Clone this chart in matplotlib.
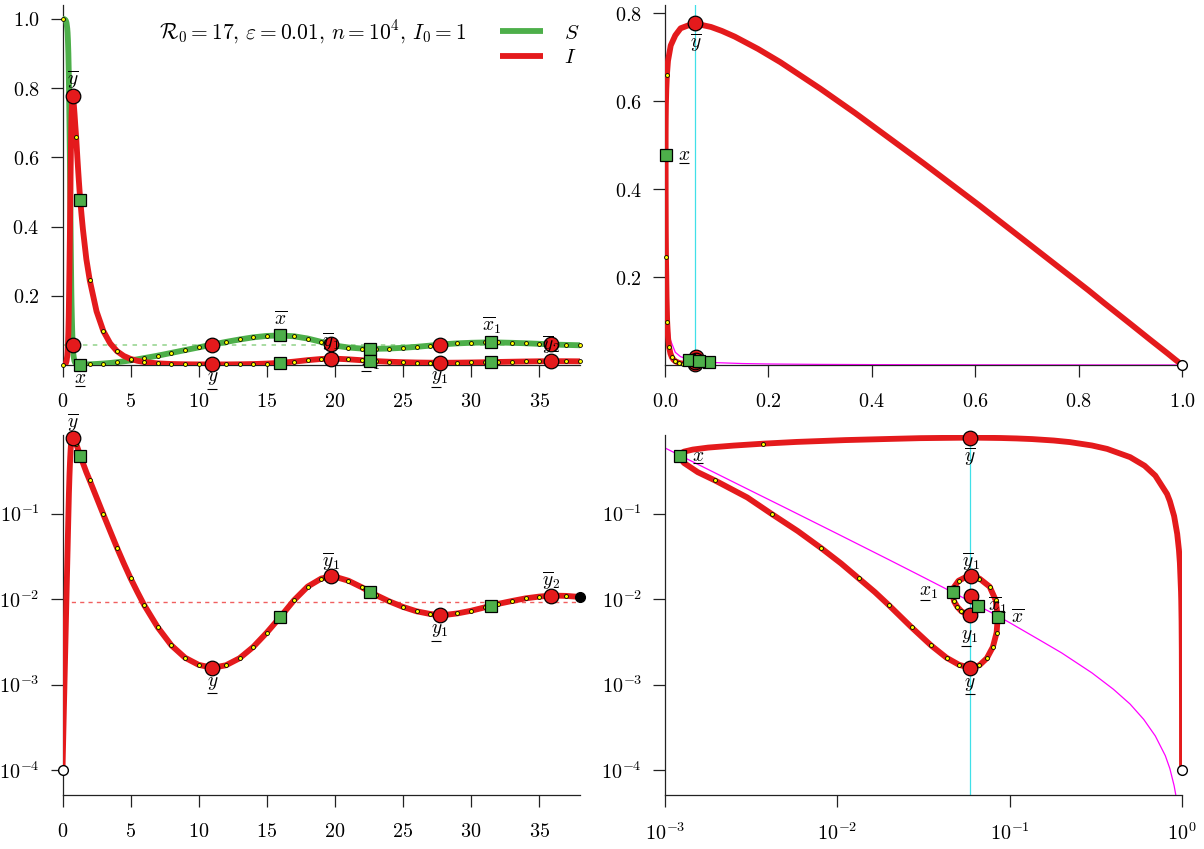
import numpy as np
import matplotlib
matplotlib.use("Agg")
import matplotlib.pyplot as plt
from matplotlib.ticker import NullLocator
from matplotlib.transforms import offset_copy

plt.rcParams["mathtext.fontset"] = "cm"
plt.rcParams["font.family"] = "serif"

# trajectory: time, susceptible fraction S, infected fraction I
t = [0.0, 0.1, 0.2, 0.25, 0.284, 0.3, 0.35, 0.373, 0.4, 0.431, 0.458, 0.47,
     0.512, 0.54, 0.568, 0.6, 0.62, 0.644, 0.662, 0.688, 0.704, 0.72, 0.733,
     0.752, 0.772, 0.8, 0.835, 0.88, 0.94, 1.0, 1.05, 1.1, 1.15, 1.2, 1.25,
     1.3, 1.4, 1.5, 1.75, 2.0, 2.5, 3.0, 3.5, 4.0, 4.5, 5.0, 5.5, 6.0, 7.0,
     8.0, 9.0, 10.0, 11.0, 12.0, 13.0, 14.0, 15.0, 16.0, 17.0, 18.0, 19.0,
     19.7, 20.0, 21.0, 22.0, 22.6, 23.0, 24.0, 25.0, 26.0, 27.0, 27.7, 28.0,
     29.0, 30.0, 31.0, 31.5, 32.0, 33.0, 34.0, 35.0, 35.9, 36.0, 37.0, 38.0]
S = [1.0, 0.9996, 0.9974, 0.9942, 0.99, 0.987, 0.972, 0.96, 0.938, 0.9, 0.85,
     0.819, 0.7, 0.607, 0.5, 0.368, 0.3, 0.223, 0.18, 0.135, 0.11, 0.089,
     0.075, 0.0588, 0.045, 0.0302, 0.02, 0.0111, 0.0058, 0.0037, 0.0025,
     0.00178, 0.00145, 0.00129, 0.00123, 0.00122, 0.00124, 0.00129, 0.00155,
     0.00195, 0.0030, 0.0042, 0.0059, 0.0080, 0.0105, 0.0133, 0.0165, 0.0199,
     0.0270, 0.0350, 0.0430, 0.0509, 0.0589, 0.0667, 0.0737, 0.0799, 0.0840,
     0.0853, 0.0830, 0.0765, 0.0668, 0.0594, 0.0562, 0.0505, 0.0474, 0.0466,
     0.0467, 0.0476, 0.0497, 0.0525, 0.0560, 0.0589, 0.0600, 0.0625, 0.0642,
     0.0651, 0.0652, 0.0650, 0.0641, 0.0628, 0.0612, 0.0594, 0.0592, 0.0580,
     0.0570]
I = [0.0001, 0.0005, 0.00245, 0.0055, 0.0095, 0.0122, 0.0265, 0.0376, 0.058,
     0.0938, 0.1404, 0.170, 0.279, 0.364, 0.459, 0.573, 0.629, 0.689, 0.719,
     0.747, 0.760, 0.769, 0.7726, 0.777, 0.7726, 0.766, 0.750, 0.727, 0.692,
     0.660, 0.627, 0.594, 0.563, 0.533, 0.505, 0.478, 0.433, 0.392, 0.306,
     0.245, 0.155, 0.098, 0.0625, 0.040, 0.0262, 0.0175, 0.0121, 0.0085,
     0.00466, 0.00287, 0.00206, 0.0017, 0.00157, 0.00168, 0.00203, 0.00275,
     0.00405, 0.0062, 0.0097, 0.0140, 0.0174, 0.0184, 0.0183, 0.0164, 0.0137,
     0.0121, 0.0112, 0.0094, 0.0081, 0.0072, 0.0067, 0.0065, 0.0065, 0.0068,
     0.0073, 0.0080, 0.0084, 0.0088, 0.0095, 0.0102, 0.0107, 0.0110, 0.0110,
     0.0109, 0.0106]

# times of the extrema of I (circles) and of S (squares); labels as (letter, subscript, bar)
t_I_ext = [0.752, 11.0, 19.7, 27.7, 35.9]
I_ext_labels = [("y", "", "over"), ("y", "", "under"), ("y", "1", "over"),
                ("y", "1", "under"), ("y", "2", "over")]
t_S_ext = [1.3, 16.0, 22.6, 31.5]
S_ext_labels = [("x", "", "under"), ("x", "", "over"), ("x", "1", "under"),
                ("x", "1", "over")]

# equilibrium and S-nullcline
S_star = 0.0588
I_star = 0.0093
null_S = [0.00073, 0.001, 0.002, 0.003, 0.005, 0.01, 0.02, 0.03, 0.05, 0.0588,
          0.08, 0.1, 0.15, 0.2, 0.3, 0.4, 0.5, 0.6, 0.7, 0.8, 0.85, 0.9, 0.92,
          0.95, 1.0]
null_I = [0.805, 0.588, 0.293, 0.195, 0.117, 0.0582, 0.0288, 0.0190, 0.0112,
          0.0094, 0.0068, 0.0053, 0.0033, 0.00235, 0.00137, 0.00088, 0.00059,
          0.00039, 0.00025, 0.000147, 0.000104, 0.0000654, 0.0000512,
          0.000031, 0.0]

t = np.array(t)
S = np.array(S)
I = np.array(I)
iI = [int(np.argmin(abs(t - v))) for v in t_I_ext]
iS = [int(np.argmin(abs(t - v))) for v in t_S_ext]
dots = np.isclose(t, np.round(t))

GREEN = "#4daf4a"
RED = "#e41a1c"
LW = 4.2
circ = dict(marker="o", ms=10.5, mfc=RED, mec="k", mew=0.9, ls="none", zorder=6, clip_on=False)
sq = dict(marker="s", ms=8.5, mfc=GREEN, mec="k", mew=0.9, ls="none", zorder=6, clip_on=False)
dot = dict(marker="o", ms=2.8, mfc="yellow", mec="k", mew=0.6, ls="none", zorder=5, clip_on=False)
LFS = 14

W, H = 1204, 849
fig = plt.figure(figsize=(W / 100, H / 100), dpi=100)
ax_tl = fig.add_axes([62.5 / W, (H - 365) / H, 517.5 / W, 360 / H])
ax_tr = fig.add_axes([665 / W, (H - 365) / H, 517 / W, 360 / H])
ax_bl = fig.add_axes([62.5 / W, (H - 795) / H, 517.5 / W, 360 / H])
ax_br = fig.add_axes([665 / W, (H - 795) / H, 517 / W, 360 / H])


def style(ax):
    for s in ["top", "right"]:
        ax.spines[s].set_visible(False)
    for s in ["left", "bottom"]:
        ax.spines[s].set_color("#222222")
        ax.spines[s].set_linewidth(0.9)
    ax.tick_params(direction="out", length=8.5, width=0.9, color="#222222",
                   labelsize=14.5)
    ax.tick_params(axis="x", pad=11)
    ax.tick_params(axis="y", pad=8)


def lab(ax, x, y, spec, dx, dy, z=7):
    letter, sub, bar = spec
    body = letter + ("_" + sub if sub else "")
    if bar == "over":
        s = r"$\overline{%s}%s$" % (letter, "_" + sub if sub else "")
    else:
        s = "$" + body + "$"
    ax.annotate(s, (x, y), xytext=(dx, dy), textcoords="offset points",
                ha="center", va="center", fontsize=LFS, annotation_clip=False,
                zorder=z)
    if bar == "under":
        # mathtext has no \underline: draw the bar as a short horizontal marker
        ux = dx - (2.8 if sub else 0)
        uy = dy - (7.5 if letter == "y" else 5.6)
        tr = offset_copy(ax.transData, fig=fig, x=ux, y=uy, units="points")
        ax.plot([x], [y], marker="_", ms=6.6, mew=0.8, color="k", transform=tr,
                clip_on=False, zorder=z)


# ---- top left: S and I against time
ax = ax_tl
style(ax)
ax.plot(t, S, color=GREEN, lw=LW, label="$S$", zorder=3, solid_capstyle="butt")
ax.plot(t, I, color=RED, lw=LW, label="$I$", zorder=3.5, solid_capstyle="butt")
ax.plot([0, 38], [S_star, S_star], ls=(0, (2.5, 3)), color="#a1d99b", lw=1.3, zorder=2)
ax.plot(t[dots], S[dots], **dot)
ax.plot(t[dots], I[dots], **dot)
ax.plot(t[iI], I[iI], **circ)
ax.plot(t[iI], S[iI], **circ)
ax.plot(t[iS], S[iS], **sq)
ax.plot(t[iS], I[iS], **sq)
for k, spec in zip(iI, I_ext_labels):
    up = spec[2] == "over"
    lab(ax, t[k], I[k], spec, 0, 12 if up else -10)
for n, (k, spec) in enumerate(zip(iS, S_ext_labels)):
    up = spec[2] == "over"
    lab(ax, t[k], S[k], spec, 0, 12 if up else -10, z=7 if (up or n == 0) else 2.5)
ax.set_xlim(0, 38)
ax.set_ylim(0, 1.04)
ax.set_xticks([0, 5, 10, 15, 20, 25, 30, 35], ["$%d$" % v for v in range(0, 40, 5)])
ax.set_yticks([0.2, 0.4, 0.6, 0.8, 1.0], ["$0.2$", "$0.4$", "$0.6$", "$0.8$", "$1.0$"])
ax.text(0.484, 0.925, r"$\mathcal{R}_0=17,\,\varepsilon=0.01,\,n=10^4,\,I_0=1$",
        transform=ax.transAxes, ha="center", va="center", fontsize=15.5)
ax.legend(loc="upper right", bbox_to_anchor=(1.035, 1.0), frameon=False,
          fontsize=15, handlelength=2.05, labelspacing=0.25, handletextpad=1.0)

# ---- top right: phase plane, linear
ax = ax_tr
style(ax)
ax.axvline(S_star, color="#40e0e8", lw=0.9, zorder=1)
ax.plot(null_S, null_I, color="magenta", lw=0.9, zorder=1.5)
ax.plot(S, I, color=RED, lw=LW, zorder=3, solid_capstyle="butt")
ax.plot(S[dots][1:], I[dots][1:], **dot)
ax.plot(S[iI], I[iI], **circ)
ax.plot(S[iS], I[iS], **sq)
ax.plot(S[0], I[0], marker="o", ms=7, mfc="white", mec="k", mew=1, clip_on=False, zorder=7)
lab(ax, S[iI[0]], I[iI[0]], I_ext_labels[0], 0, -14)
lab(ax, S[iS[0]], I[iS[0]], S_ext_labels[0], 13, 0)
ax.set_xlim(0, 1)
ax.set_ylim(0, 0.819)
ax.set_xticks([0, 0.2, 0.4, 0.6, 0.8, 1.0], ["$0.0$", "$0.2$", "$0.4$", "$0.6$", "$0.8$", "$1.0$"])
ax.set_yticks([0.2, 0.4, 0.6, 0.8], ["$0.2$", "$0.4$", "$0.6$", "$0.8$"])

# ---- bottom left: I against time, log
ax = ax_bl
style(ax)
ax.set_yscale("log")
ax.plot(t, I, color=RED, lw=LW, zorder=3, solid_capstyle="butt")
ax.plot([0, 38], [I_star, I_star], ls=(0, (3, 3)), color="#f06060", lw=1.0, zorder=2)
ax.plot(t[dots][1:], I[dots][1:], **dot)
ax.plot(t[iI], I[iI], **circ)
ax.plot(t[iS], I[iS], **sq)
ax.plot(t[0], I[0], marker="o", ms=7, mfc="white", mec="k", mew=1, clip_on=False, zorder=7)
ax.plot(t[-1], I[-1], marker="o", ms=7, mfc="k", mec="k", clip_on=False, zorder=7)
for k, spec in zip(iI, I_ext_labels):
    up = spec[2] == "over"
    lab(ax, t[k], I[k], spec, 0, 11 if up else -11)
ax.set_xlim(0, 38)
ax.set_ylim(5.09e-5, 0.834)
ax.yaxis.set_minor_locator(NullLocator())
ax.set_xticks([0, 5, 10, 15, 20, 25, 30, 35], ["$%d$" % v for v in range(0, 40, 5)])
ax.set_yticks([1e-4, 1e-3, 1e-2, 1e-1], ["$10^{-4}$", "$10^{-3}$", "$10^{-2}$", "$10^{-1}$"])

# ---- bottom right: phase plane, log-log
ax = ax_br
style(ax)
ax.set_xscale("log")
ax.set_yscale("log")
ax.axvline(S_star, color="#40e0e8", lw=0.9, zorder=1)
ax.plot(null_S, null_I, color="magenta", lw=0.9, zorder=1.5)
ax.plot(S, I, color=RED, lw=LW, zorder=3, solid_capstyle="butt")
ax.plot(S[dots][1:], I[dots][1:], **dot)
ax.plot(S[iI], I[iI], **circ)
ax.plot(S[iS], I[iS], **sq)
ax.plot(S[0], I[0], marker="o", ms=7, mfc="white", mec="k", mew=1, clip_on=False, zorder=7)
ax.plot(S[-1], I[-1], marker="o", ms=5, mfc="k", mec="k", zorder=5.5)
br_off = [(0, -14), (0, -11.5), (0, 10.5), (0, -15), None]
for k, spec, off in zip(iI, I_ext_labels, br_off):
    if off:
        lab(ax, S[k], I[k], spec, off[0], off[1])
sq_off = [(13, 0), (14, 0), (-17, 0), (14.5, 0)]
for k, spec, off in zip(iS, S_ext_labels, sq_off):
    lab(ax, S[k], I[k], spec, off[0], off[1])
ax.set_xlim(1e-3, 1)
ax.set_ylim(5.09e-5, 0.834)
ax.xaxis.set_minor_locator(NullLocator())
ax.yaxis.set_minor_locator(NullLocator())
ax.set_xticks([1e-3, 1e-2, 1e-1, 1], ["$10^{-3}$", "$10^{-2}$", "$10^{-1}$", "$10^{0}$"])
ax.set_yticks([1e-4, 1e-3, 1e-2, 1e-1], ["$10^{-4}$", "$10^{-3}$", "$10^{-2}$", "$10^{-1}$"])

fig.savefig("out.png", dpi=100)
